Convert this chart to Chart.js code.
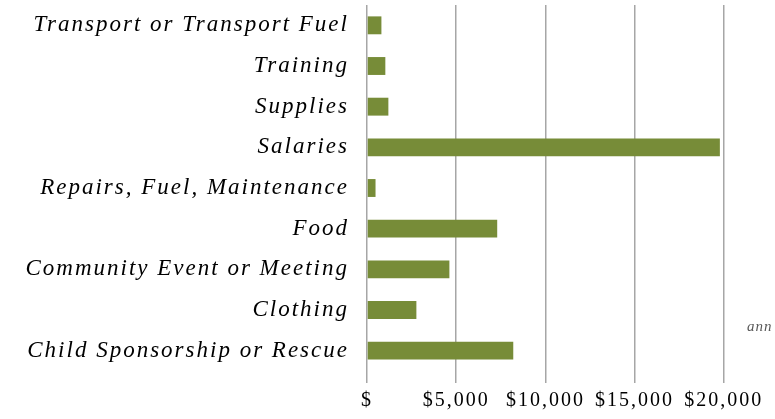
<!DOCTYPE html>
<html>
<head>
<meta charset="utf-8">
<script src="https://cdn.jsdelivr.net/npm/chart.js@4/dist/chart.umd.min.js"></script>
<style>
  html, body { margin: 0; padding: 0; background: #fff; overflow: hidden; }
  .wrap { position: relative; width: 775px; height: 419px; overflow: hidden; }
  #myChart { position: absolute; left: 0; top: 0; }
  .cut { position: absolute; left: 747px; top: 318px; font: italic 15px "Liberation Serif", serif; color: #595959; letter-spacing: 1px; }
</style>
</head>
<body>
<div class="wrap">
  <canvas id="myChart" width="835" height="419"></canvas>
  <div class="cut">ann</div>
</div>
<script>
const categories = [
  'Transport or Transport Fuel',
  'Training',
  'Supplies',
  'Salaries',
  'Repairs, Fuel, Maintenance',
  'Food',
  'Community Event or Meeting',
  'Clothing',
  'Child Sponsorship or Rescue'
];
const amounts = [810, 1030, 1200, 19780, 480, 7300, 4620, 2770, 8200];
const xTickLabels = ['$', '$5,000', '$10,000', '$15,000', '$20,000', ''];

// letter spacing is canvas state, it gets lost when the canvas is resized
const spacing = {
  id: 'spacing',
  beforeUpdate(chart) { chart.ctx.letterSpacing = '2px'; },
  beforeDraw(chart) { chart.ctx.letterSpacing = '2px'; }
};

new Chart('myChart', {
  type: 'bar',
  data: {
    labels: categories,
    datasets: [{
      data: amounts,
      backgroundColor: '#778c38',
      barPercentage: 0.44,
      categoryPercentage: 1
    }]
  },
  options: {
    indexAxis: 'y',
    responsive: false,
    animation: false,
    layout: { padding: { left: 15.5, right: 22, top: 5, bottom: 0 } },
    plugins: {
      legend: { display: false },
      tooltip: { enabled: false }
    },
    scales: {
      x: {
        min: 0,
        max: 25000,
        ticks: {
          stepSize: 5000,
          maxRotation: 0,
          padding: 9,
          color: '#000',
          font: { family: '"Liberation Serif", serif', size: 20, lineHeight: 0.9 },
          callback: (v, i) => xTickLabels[i]
        },
        grid: { color: '#a6a6a6', lineWidth: 1.5, tickLength: 12, drawTicks: true },
        border: { display: false }
      },
      y: {
        afterFit(scale) {
          scale.paddingTop = 0;
          scale.paddingBottom = 0;
        },
        ticks: {
          padding: 10,
          color: '#000',
          font: { family: '"Liberation Serif", serif', size: 23, style: 'italic' }
        },
        grid: { display: false },
        border: { display: false }
      }
    }
  },
  plugins: [spacing]
});
</script>
</body>
</html>
